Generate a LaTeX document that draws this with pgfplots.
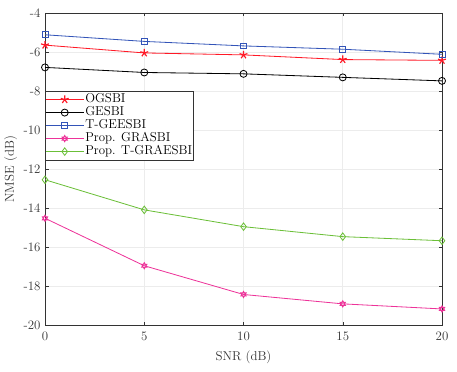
\documentclass[border=0pt]{standalone}
\usepackage{pgfplots}
\pgfplotsset{compat=1.18}
\definecolor{cred}{rgb}{1,0.1,0.15}
\definecolor{cblue}{rgb}{0.2,0.33,0.72}
\definecolor{cpink}{rgb}{0.93,0.2,0.6}
\definecolor{cgreen}{rgb}{0.42,0.75,0.22}
\definecolor{axgray}{rgb}{0.2,0.2,0.2}
\pgfdeclareplotmark{hexagram}{%
  \pgfpathmoveto{\pgfqpointpolar{90}{\pgfplotmarksize}}%
  \pgfpathlineto{\pgfqpointpolar{210}{\pgfplotmarksize}}%
  \pgfpathlineto{\pgfqpointpolar{330}{\pgfplotmarksize}}%
  \pgfpathclose
  \pgfpathmoveto{\pgfqpointpolar{270}{\pgfplotmarksize}}%
  \pgfpathlineto{\pgfqpointpolar{30}{\pgfplotmarksize}}%
  \pgfpathlineto{\pgfqpointpolar{150}{\pgfplotmarksize}}%
  \pgfpathclose
  \pgfusepathqstroke}
\begin{document}
\fontsize{11}{13}\selectfont
\begin{tikzpicture}
\begin{axis}[
  scale only axis,
  width=339pt, height=267pt,
  xmin=0, xmax=20, ymin=-20, ymax=-4,
  xtick={0,5,10,15,20},
  ytick={-20,-18,-16,-14,-12,-10,-8,-6,-4},
  tick align=inside,
  major tick length=3pt,
  grid=major,
  grid style={gray!15, line width=0.5pt},
  axis line style={axgray, line width=0.5pt},
  tick style={axgray},
  tick label style={text=axgray, font=\fontsize{11}{13}\selectfont},
  xticklabel style={yshift=-2pt},
  /pgf/number format/assume math mode=true,
  xlabel={SNR (dB)}, ylabel={NMSE (dB)},
  label style={text=axgray, font=\fontsize{11}{13}\selectfont},
  xlabel style={yshift=-1pt},
  ylabel style={yshift=-2pt},
  legend style={at={(axis cs:0,-8)}, anchor=north west, draw=axgray, line width=0.5pt,
    font=\fontsize{11}{13}\selectfont, inner xsep=0pt, inner ysep=1.8pt, row sep=0.6pt,
    nodes={inner xsep=1pt, inner ysep=0pt, text height=8pt, text depth=2.5pt},
    cells={anchor=west}},
  legend cell align=left,
  legend image code/.code={\draw[mark repeat=2,mark phase=2,#1] plot coordinates {(0cm,0cm) (0.57cm,0cm) (1.14cm,0cm)};},
  every axis plot/.append style={line width=0.7pt},
]
\addplot[cred, mark=star, mark size=3.5pt, mark options={fill=cred, line width=1pt}] coordinates {(0,-5.65) (5,-6.05) (10,-6.15) (15,-6.39) (20,-6.43)};
\addlegendentry{OGSBI}
\addplot[black, mark=o, mark size=3pt] coordinates {(0,-6.79) (5,-7.05) (10,-7.12) (15,-7.30) (20,-7.48)};
\addlegendentry{GESBI}
\addplot[cblue, mark=square, mark size=2.5pt] coordinates {(0,-5.12) (5,-5.46) (10,-5.69) (15,-5.86) (20,-6.12)};
\addlegendentry{T-GEESBI}
\addplot[cpink, mark=hexagram, mark size=2.7pt] coordinates {(0,-14.51) (5,-16.94) (10,-18.41) (15,-18.89) (20,-19.15)};
\addlegendentry{Prop. GRASBI}
\addplot[cgreen, mark=diamond, mark size=3.2pt] coordinates {(0,-12.54) (5,-14.08) (10,-14.94) (15,-15.45) (20,-15.66)};
\addlegendentry{Prop. T-GRAESBI}
\end{axis}
\path ([yshift=11pt]current axis.north) ([xshift=12.8pt]current axis.east) ([yshift=-3pt]current axis.outer south);
\end{tikzpicture}
\end{document}
